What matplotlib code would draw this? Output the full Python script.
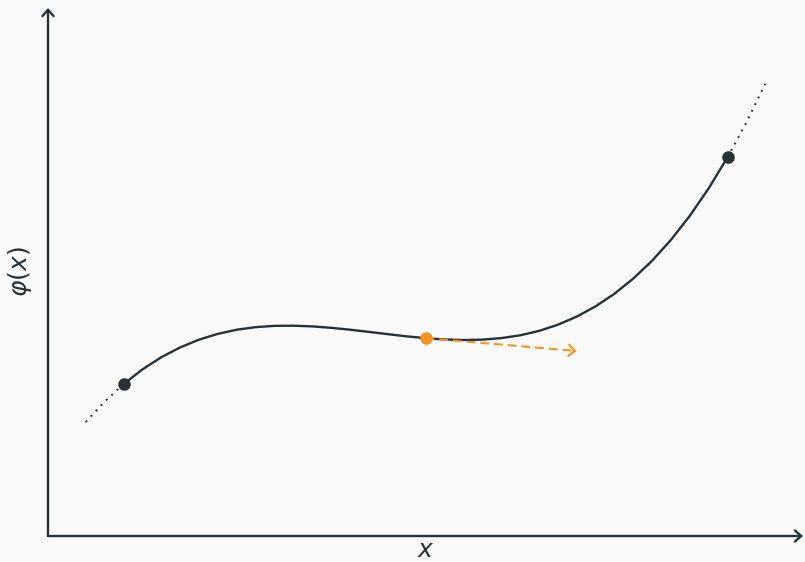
import matplotlib
matplotlib.use("Agg")
import matplotlib.pyplot as plt

plt.rcParams["mathtext.fontset"] = "dejavusans"

# phi(x) read on a 0.25 grid over the drawn interval [1, 9]
x_curve = [1.0, 1.25, 1.5, 1.75, 2.0, 2.25, 2.5, 2.75, 3.0, 3.25, 3.5,
           3.75, 4.0, 4.25, 4.5, 4.75, 5.0, 5.25, 5.5, 5.75, 6.0, 6.25,
           6.5, 6.75, 7.0, 7.25, 7.5, 7.75, 8.0, 8.25, 8.5, 8.75, 9.0]
y_curve = [2.013, 2.208, 2.370, 2.500, 2.603, 2.680, 2.735, 2.769, 2.786,
           2.788, 2.779, 2.760, 2.735, 2.706, 2.676, 2.647, 2.623, 2.606,
           2.598, 2.603, 2.623, 2.660, 2.718, 2.800, 2.907, 3.043, 3.210,
           3.411, 3.648, 3.925, 4.244, 4.608, 5.020]

# Continuation of phi outside the interval (dotted)
x_left_ext = [0.5, 0.75, 1.0]
y_left_ext = [1.512, 1.782, 2.013]
x_right_ext = [9.0, 9.25, 9.5]
y_right_ext = [5.020, 5.481, 5.996]

# Interval end points, marked point and where its tangent arrow ends
x_ends = [1.0, 9.0]
y_ends = [2.013, 5.020]
x_mark = 5.0
y_mark = 2.623
x_tan_end = 7.0
y_tan_end = 2.453

dark = "#263238"
orange = "#F7931E"
bg = "#fafafa"

fig = plt.figure(figsize=(8.05, 5.62), dpi=100, facecolor=bg)
ax = fig.add_axes([48 / 805, 26 / 562, 755 / 805, 528 / 562])
ax.set_facecolor(bg)
ax.set_xlim(0, 10)
ax.set_ylim(0, 7)
for s in ax.spines.values():
    s.set_visible(False)
ax.set_xticks([])
ax.set_yticks([])

# Axes with arrow heads
arrow_kw = dict(arrowstyle="->,head_length=0.45,head_width=0.4",
                color=dark, lw=1.7, shrinkA=0, shrinkB=0)
ax.annotate("", xy=(0, 7), xytext=(0, 0), arrowprops=arrow_kw,
            annotation_clip=False)
ax.annotate("", xy=(10, 0), xytext=(0, 0), arrowprops=arrow_kw,
            annotation_clip=False)

# Dotted continuation
dot_style = dict(color=dark, lw=1.4, linestyle=(0, (1, 2.8)), clip_on=False)
ax.plot(x_left_ext, y_left_ext, **dot_style)
ax.plot(x_right_ext, y_right_ext, **dot_style)

# Function curve
ax.plot(x_curve, y_curve, color=dark, lw=1.7, solid_capstyle="round",
        solid_joinstyle="round")

# Tangent direction at the marked point
ax.plot([x_mark, x_tan_end], [y_mark, y_tan_end], color=orange, lw=1.5,
        linestyle=(0, (4.2, 2.4)))
dx = x_tan_end - x_mark
dy = y_tan_end - y_mark
ax.annotate("", xy=(x_tan_end, y_tan_end),
            xytext=(x_tan_end - 0.02 * dx, y_tan_end - 0.02 * dy),
            arrowprops=dict(arrowstyle="->,head_length=0.45,head_width=0.4",
                            color=orange, lw=1.5, shrinkA=0, shrinkB=0))

# Points
ax.plot(x_ends, y_ends, "o", color=dark, markersize=8, zorder=5)
ax.plot([x_mark], [y_mark], "o", color=orange, markersize=8, zorder=5)

# Axis labels
fig.text(425.5 / 805, 12 / 562, r"$x$", ha="center", va="center",
         fontsize=18, color=dark)
ax.text(-0.037, 0.5, r"$\varphi(x)$", transform=ax.transAxes, ha="center",
        va="center", rotation=90, fontsize=18, color=dark)

fig.savefig("out.png", dpi=100, facecolor=bg)
